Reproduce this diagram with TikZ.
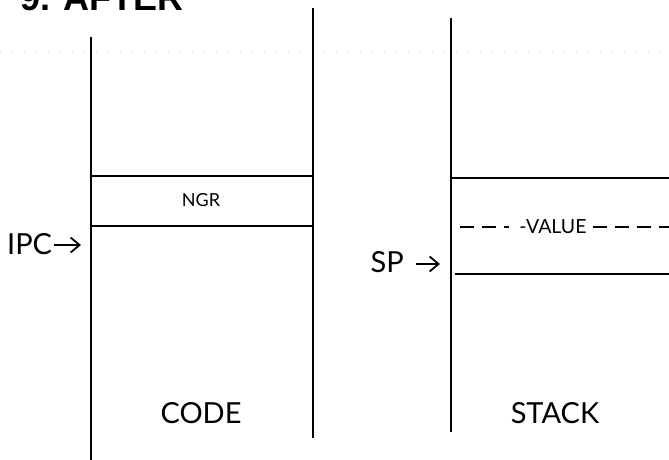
\documentclass[tikz,border=0pt]{standalone}
\usepackage{fontspec}
\setmainfont{Lato}
\newfontfamily\titlefont{Liberation Sans}
\usetikzlibrary{arrows.meta}
\tikzset{
  wall/.style={line width=1.6pt},
  bar/.style={line width=1.8pt},
  ptr/.style={line width=1.8pt,-{Straight Barb[length=9pt,width=15pt,line width=1.8pt]}},
  biglabel/.style={inner sep=0pt,font=\fontsize{29}{32}\selectfont},
  smalllabel/.style={inner sep=0pt,font=\fontsize{18}{21}\selectfont},
  vallabel/.style={inner sep=0pt,font=\fontsize{19.5}{22}\selectfont},
  dashbar/.style={line width=1.5pt,dash pattern=on 14pt off 8pt},
}
\begin{document}
\begin{tikzpicture}[x=1pt,y=-1pt]
\useasboundingbox (0,0) rectangle (669,460);
\clip (0,0) rectangle (669,460);
% title (cut off at the top, as in the reference)
\node[anchor=base west,inner sep=0pt,font=\titlefont\bfseries\fontsize{36}{40}\selectfont] (title) at (20,11) {9. AFTER};
% faint scan line
\draw[black!20,line width=0.8pt,dash pattern=on 1pt off 11pt] (0,51) -- (669,51);
% code column
\coordinate (cl1) at (91,37);  \coordinate (cl2) at (91,460);
\coordinate (cr1) at (313,8);  \coordinate (cr2) at (313,438);
\draw[wall] (cl1) -- (cl2);
\draw[wall] (cr1) -- (cr2);
\coordinate (n1l) at (91,176); \coordinate (n1r) at (313,176);
\coordinate (n2l) at (91,226); \coordinate (n2r) at (313,226);
\draw[bar] (n1l) -- (n1r);
\draw[bar] (n2l) -- (n2r);
\node[smalllabel] (ngr) at (201,200) {NGR};
\node[biglabel,anchor=west] (ipc) at (7,244) {IPC};
\coordinate (ipcend) at (81,245);
\draw[ptr] ([xshift=2pt]ipc.east |- ipcend) -- (ipcend);
\node[biglabel] (code) at (201,413) {CODE};
% stack column
\coordinate (sl1) at (451,18); \coordinate (sl2) at (451,432);
\draw[wall] (sl1) -- (sl2);
\coordinate (s1l) at (451,178); \coordinate (s1r) at (669,178);
\coordinate (s2l) at (455,274); \coordinate (s2r) at (669,274);
\draw[bar] (s1l) -- (s1r);
\draw[bar] (s2l) -- (s2r);
\node[vallabel] (val) at (553,227) {-VALUE};
\coordinate (d1) at (460,227); \coordinate (d2) at (669,227);
\draw[dashbar] (d1) -- ([xshift=-10pt]val.west);
\draw[dashbar] ([xshift=6pt]val.east) -- (d2);
\node[biglabel,anchor=east] (sp) at (404,262) {SP};
\coordinate (spstart) at (416,264); \coordinate (spend) at (440,264);
\draw[ptr] (spstart) -- (spend);
\node[biglabel] (stack) at (555,413) {STACK};
\end{tikzpicture}
\end{document}
